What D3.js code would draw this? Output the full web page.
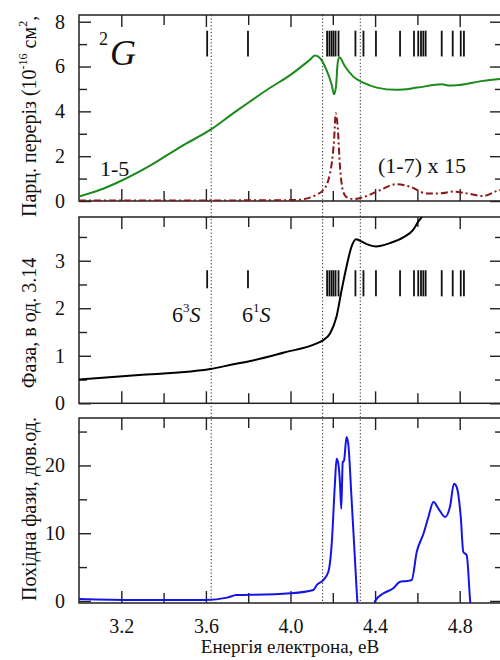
<!DOCTYPE html>
<html><head>
<script src="https://cdn.jsdelivr.net/npm/d3@7"></script>
</head><body style="margin:0"><svg id="c" width="500" height="660"></svg>
<script>
// ---- data ----
const xTicksMajor = [3.2, 3.6, 4.0, 4.4, 4.8];
const xTicksMinor = [3.4, 3.8, 4.2, 4.6];
const dottedE = [3.625, 4.152, 4.330];

const xsEnergy = [3.00,3.10,3.19,3.34,3.48,3.62,3.73,3.81,3.90,4.00,4.09,4.116,4.14,4.17,4.195,4.206,4.215,4.223,4.231,4.258,4.297,4.344,4.408,4.50,4.60,4.715,4.754,4.80,4.91,5.00];
const greenCross = [0.20,0.50,0.86,1.60,2.42,3.17,3.92,4.45,5.03,5.63,6.29,6.49,6.37,5.85,5.18,4.76,5.10,6.15,6.41,6.00,5.55,5.28,5.06,4.96,5.06,5.21,5.15,5.18,5.36,5.45];

const redE = [3.00,3.50,3.80,4.00,4.045,4.12,4.155,4.187,4.206,4.214,4.223,4.234,4.247,4.265,4.297,4.344,4.408,4.502,4.565,4.644,4.707,4.77,4.833,4.912,4.98,5.00];
const redCross = [0.02,0.02,0.03,0.04,0.06,0.27,0.49,1.24,2.72,3.92,3.32,1.53,0.49,0.17,0.09,0.17,0.42,0.75,0.64,0.34,0.34,0.42,0.34,0.22,0.46,0.50];

const phaseE = [3.00,3.30,3.62,3.73,3.81,3.97,4.124,4.155,4.187,4.218,4.242,4.265,4.289,4.31,4.329,4.36,4.404,4.47,4.533,4.58,4.605,4.62,4.64];
const phase = [0.50,0.60,0.72,0.82,0.89,1.07,1.26,1.33,1.47,1.83,2.39,2.88,3.30,3.45,3.42,3.35,3.30,3.37,3.49,3.65,3.83,3.92,4.10];

const derivE = [3.00,3.26,3.60,3.70,3.745,3.81,4.00,4.108,4.124,4.155,4.179,4.195,4.21,4.218,4.226,4.234,4.24,4.247,4.253,4.265,4.273,4.289,4.305,4.316,4.33,4.39,4.40,4.44,4.486,4.518,4.55,4.573,4.597,4.629,4.652,4.676,4.70,4.731,4.754,4.773,4.786,4.805,4.817,4.833,4.849,4.86,5.00];
const deriv = [0.30,0.15,0.15,0.49,0.88,0.90,1.13,1.62,2.35,3.09,4.31,8.5,17.3,21.0,20.3,17.3,13.6,20.5,20.7,24.2,23.2,14.9,6.0,0,-4,-4,0,1.13,1.87,2.84,2.94,3.09,7.25,9.95,12.4,14.6,13.6,12.4,13.9,17.3,16.8,12.4,7.25,6.76,0.15,-4,-4];

const levelsS = [3.606, 3.799];
const levelsG = [4.173,4.184,4.194,4.203,4.213,4.227,4.307,4.345,4.404,4.518,4.584,4.604,4.617,4.628,4.639,4.715,4.767,4.805,4.820];

const p1Ticks = [0,2,4,6,8], p1Minor = [1,3,5,7];
const p2Ticks = [0,1,2,3], p2Minor = [0.5,1.5,2.5,3.5];
const p3Ticks = [0,10,20], p3Minor = [5,15,25];

// ---- layout ----
const FONT = "Liberation Serif";
const svg = d3.select("#c");
const L = 79, R = 502;
const x = d3.scaleLinear().domain([3.0, 5.0]).range([L, R]);
const panels = [
  {top:15, bot:201, dom:[0,8.3], maj:p1Ticks, min:p1Minor},
  {top:217, bot:403.3, dom:[0,3.92], maj:p2Ticks, min:p2Minor},
  {top:418, bot:603, dom:[-0.3,27], maj:p3Ticks, min:p3Minor}
];
panels.forEach(p => p.y = d3.scaleLinear().domain(p.dom).range([p.bot, p.top]));

const defs = svg.append("defs");
panels.forEach((p,i) => {
  defs.append("clipPath").attr("id","clip"+i).append("rect")
    .attr("x",L).attr("y",p.top).attr("width",R-L).attr("height",p.bot-p.top);
});

const axisStyle = g => {
  g.attr("font-family", FONT).attr("font-size", 20);
  g.select(".domain").remove();
  g.selectAll("line").attr("stroke","#222").attr("stroke-width",1.4);
  g.selectAll("text").attr("fill","#111").attr("font-family", FONT).attr("font-size",20);
};

panels.forEach((p,i) => {
  const g = svg.append("g");
  g.append("g").attr("transform",`translate(${L},0)`).call(d3.axisLeft(p.y).tickValues(p.maj).tickSizeInner(-12).tickSizeOuter(0).tickPadding(14).tickFormat(d3.format("d"))).call(axisStyle);
  g.append("g").attr("transform",`translate(${L},0)`).call(d3.axisLeft(p.y).tickValues(p.min).tickSizeInner(-8).tickSizeOuter(0).tickFormat("")).call(axisStyle);
  g.append("g").attr("transform",`translate(${R},0)`).call(d3.axisRight(p.y).tickValues(p.maj).tickSizeInner(-12).tickSizeOuter(0).tickFormat("")).call(axisStyle);
  g.append("g").attr("transform",`translate(${R},0)`).call(d3.axisRight(p.y).tickValues(p.min).tickSizeInner(-7).tickSizeOuter(0).tickFormat("")).call(axisStyle);
  g.append("g").attr("transform",`translate(0,${p.bot})`).call(d3.axisBottom(x).tickValues(xTicksMajor).tickSizeInner(-12).tickSizeOuter(0).tickPadding(16).tickFormat(i===2 ? d3.format(".1f") : "")).call(axisStyle);
  g.append("g").attr("transform",`translate(0,${p.bot})`).call(d3.axisBottom(x).tickValues(xTicksMinor).tickSizeInner(-10).tickSizeOuter(0).tickFormat("")).call(axisStyle);
  g.append("g").attr("transform",`translate(0,${p.top})`).call(d3.axisTop(x).tickValues(xTicksMajor).tickSizeInner(-12).tickSizeOuter(0).tickFormat("")).call(axisStyle);
  g.append("g").attr("transform",`translate(0,${p.top})`).call(d3.axisTop(x).tickValues(xTicksMinor).tickSizeInner(-10).tickSizeOuter(0).tickFormat("")).call(axisStyle);
  g.append("rect").attr("x",L).attr("y",p.top).attr("width",R-L).attr("height",p.bot-p.top)
    .attr("fill","none").attr("stroke","#222").attr("stroke-width",1.5);
});

svg.selectAll("line.dot").data(dottedE).enter().append("line")
  .attr("x1",d=>x(d)).attr("x2",d=>x(d)).attr("y1",panels[0].top).attr("y2",panels[2].bot)
  .attr("stroke","#222").attr("stroke-width",1).attr("stroke-dasharray","1.2,2.2");

const p1 = panels[0], p2 = panels[1], p3 = panels[2];
svg.selectAll("line.lv1").data(levelsS.concat(levelsG)).enter().append("line")
  .attr("x1",d=>x(d)).attr("x2",d=>x(d)).attr("y1",p1.y(7.6)).attr("y2",p1.y(6.45))
  .attr("stroke","#111").attr("stroke-width",1.8);
svg.selectAll("line.lv2").data(levelsG).enter().append("line")
  .attr("x1",d=>x(d)).attr("x2",d=>x(d)).attr("y1",p2.y(2.8)).attr("y2",p2.y(2.25))
  .attr("stroke","#111").attr("stroke-width",1.8);
svg.selectAll("line.lv2s").data(levelsS).enter().append("line")
  .attr("x1",d=>x(d)).attr("x2",d=>x(d)).attr("y1",p2.y(2.8)).attr("y2",p2.y(2.42))
  .attr("stroke","#111").attr("stroke-width",1.8);

const mk = (xs, ys, ysc) => d3.line().x((d,i)=>x(xs[i])).y((d,i)=>ysc(ys[i])).curve(d3.curveMonotoneX)(ys);
svg.append("path").attr("clip-path","url(#clip0)").attr("d",mk(xsEnergy,greenCross,p1.y))
  .attr("fill","none").attr("stroke","#1b8a1b").attr("stroke-width",2);
svg.append("path").attr("clip-path","url(#clip0)").attr("d",mk(redE,redCross,p1.y))
  .attr("fill","none").attr("stroke","#8b1414").attr("stroke-width",2).attr("stroke-dasharray","7,3,2,3");
svg.append("path").attr("clip-path","url(#clip1)").attr("d",mk(phaseE,phase,p2.y))
  .attr("fill","none").attr("stroke","#000").attr("stroke-width",2);
svg.append("path").attr("clip-path","url(#clip2)").attr("d",mk(derivE,deriv,p3.y))
  .attr("fill","none").attr("stroke","#1414e6").attr("stroke-width",2);

const t = (xx,yy,size) => svg.append("text").attr("x",xx).attr("y",yy).attr("font-family",FONT).attr("font-size",size).attr("fill","#111");
t(99,45,18).text("2");
t(110,65,36).attr("font-style","italic").text("G");
t(100,176,22).text("1-5");
t(378,173,22).text("(1-7) x 15");
const sup = (sel, a, b) => { sel.append("tspan").text(a); sel.append("tspan").attr("font-size",13).attr("dy",-10).text(b); sel.append("tspan").attr("dy",10).attr("font-style","italic").text("S"); };
sup(t(172,322,22), "6", "3");
sup(t(242,322,22), "6", "1");

const yl1 = svg.append("text").attr("transform","translate(36,217) rotate(-90)").attr("font-family",FONT).attr("font-size",20).attr("fill","#111");
yl1.append("tspan").text("Парц. переріз (10");
yl1.append("tspan").attr("font-size",12).attr("dy",-9).text("-16");
yl1.append("tspan").attr("dy",9).text(" см");
yl1.append("tspan").attr("font-size",12).attr("dy",-9).text("2");
yl1.append("tspan").attr("dy",9).text(",");
svg.append("text").attr("transform","translate(36,323) rotate(-90)").attr("text-anchor","middle").attr("font-family",FONT).attr("font-size",20).attr("fill","#111").text("Фаза, в од. 3.14");
svg.append("text").attr("transform","translate(36,509) rotate(-90)").attr("text-anchor","middle").attr("font-family",FONT).attr("font-size",20).attr("fill","#111").text("Похідна фази, дов.од.");
svg.append("text").attr("x",290).attr("y",653).attr("text-anchor","middle").attr("font-family",FONT).attr("font-size",19).attr("fill","#111").text("Енергія електрона, еВ");
</script></body></html>
